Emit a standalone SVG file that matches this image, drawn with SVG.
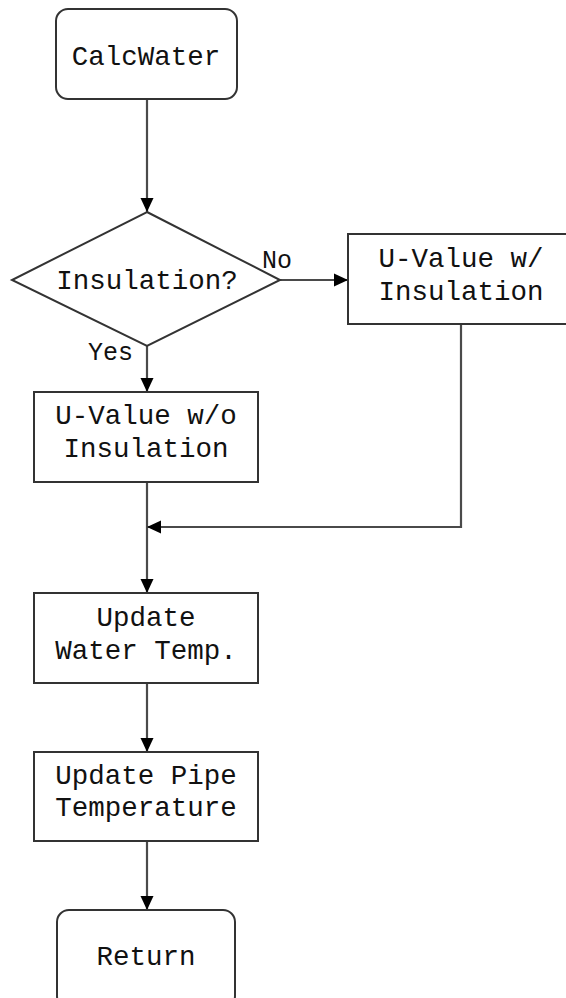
<svg xmlns="http://www.w3.org/2000/svg" width="566" height="998" viewBox="0 0 566 998">
<defs>
<style>
.box{fill:#fff;stroke:#333;stroke-width:2}
.t{font-family:"Liberation Mono","Courier New",monospace;font-size:27.5px;fill:#111;text-anchor:middle}
.lbl{font-family:"Liberation Mono","Courier New",monospace;font-size:25px;fill:#111}
.c{fill:none;stroke:#4a4a4a;stroke-width:2.2}
</style>
<marker id="ah" viewBox="0 0 14 14" refX="14" refY="7" markerWidth="14" markerHeight="14" markerUnits="userSpaceOnUse" orient="auto">
<path d="M0,0.5 L14,7 L0,13.5 Z" fill="#000"/>
</marker>
</defs>
<rect width="566" height="998" fill="#fff"/>
<g id="connectors">
<line class="c" x1="147" y1="99" x2="147" y2="212" marker-end="url(#ah)"/>
<line class="c" x1="280" y1="280" x2="348" y2="280" marker-end="url(#ah)"/>
<line class="c" x1="147" y1="346" x2="147" y2="392" marker-end="url(#ah)"/>
<line class="c" x1="147" y1="482" x2="147" y2="593" marker-end="url(#ah)"/>
<polyline class="c" points="461,324 461,527 147,527" marker-end="url(#ah)"/>
<line class="c" x1="147" y1="683" x2="147" y2="752" marker-end="url(#ah)"/>
<line class="c" x1="147" y1="841" x2="147" y2="910" marker-end="url(#ah)"/>
<text class="lbl" x="262" y="268">No</text>
<text class="lbl" x="88" y="360">Yes</text>
</g>
<g id="calcwater">
<rect class="box" x="56" y="9" width="181" height="90" rx="12"/>
<text class="t" x="146" y="65">CalcWater</text>
</g>
<g id="insulation">
<polygon class="box" points="147,212 280,280 147,346 12,280"/>
<text class="t" x="147" y="289">Insulation?</text>
</g>
<g id="uvalue-w">
<rect class="box" x="348" y="234" width="226" height="90"/>
<text class="t" x="461" y="267">U-Value w/</text>
<text class="t" x="461" y="300">Insulation</text>
</g>
<g id="uvalue-wo">
<rect class="box" x="34" y="392" width="224" height="90"/>
<text class="t" x="146" y="424">U-Value w/o</text>
<text class="t" x="146" y="457">Insulation</text>
</g>
<g id="update-water">
<rect class="box" x="34" y="593" width="224" height="90"/>
<text class="t" x="146" y="626">Update</text>
<text class="t" x="146" y="659">Water Temp.</text>
</g>
<g id="update-pipe">
<rect class="box" x="34" y="752" width="224" height="89"/>
<text class="t" x="146" y="784">Update Pipe</text>
<text class="t" x="146" y="816">Temperature</text>
</g>
<g id="return">
<rect class="box" x="57" y="910" width="178" height="98" rx="12"/>
<text class="t" x="146" y="965">Return</text>
</g>
</svg>
